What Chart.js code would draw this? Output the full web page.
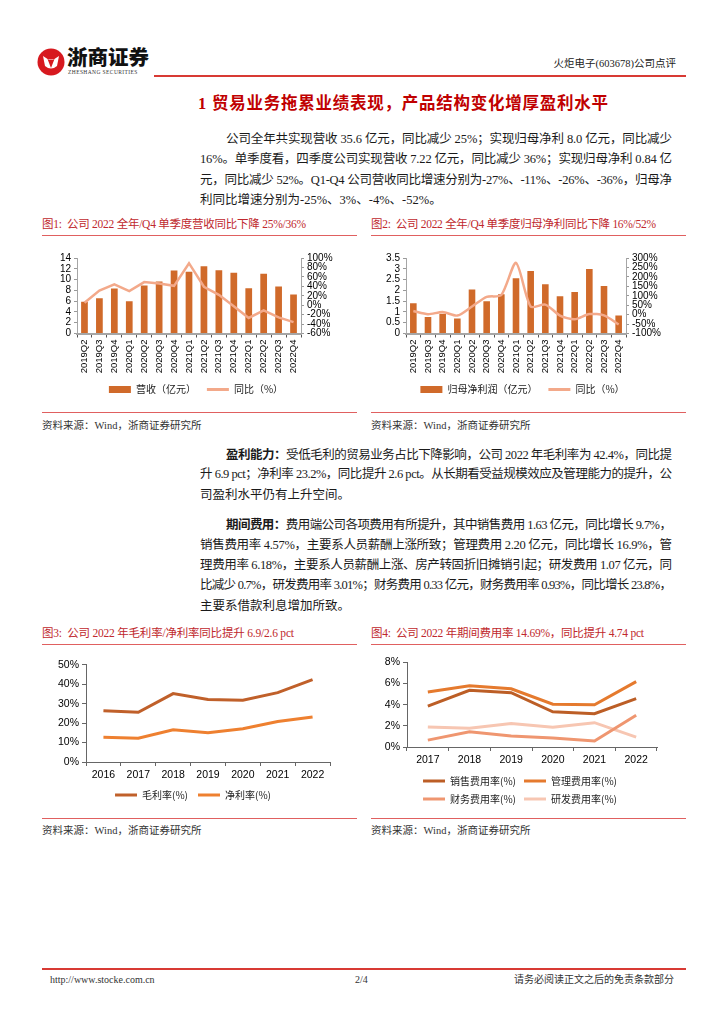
<!DOCTYPE html>
<html>
<head>
<meta charset="utf-8">
<script src="https://cdn.jsdelivr.net/npm/chart.js@4.4.0/dist/chart.umd.min.js"></script>
<style>
body{margin:0;width:724px;height:1024px;position:relative;background:#fff;overflow:hidden;
  font-family:"Liberation Serif","Noto Sans CJK SC",serif;color:#1a1a1a}
.t{position:absolute;white-space:nowrap;line-height:16px}
.body{font-size:12.5px}
.cap{font-size:11.5px;color:#c0282d}
.src{font-size:10.5px;color:#333}
.rule{position:absolute;height:1px;background:#e06060}
.box{position:absolute}
b{font-family:"Noto Sans CJK SC";font-weight:700}
</style>
</head>
<body>

<!-- header -->
<svg class="box" style="left:37px;top:48px" width="28" height="28" viewBox="0 0 28 28">
  <circle cx="14" cy="14" r="13.5" fill="#d7191f"/>
  <path d="M6 8 Q14 15 22 8 L20 18 Q14 23 8 18 Z" fill="#fff"/>
  <path d="M10.5 11 L14 20 L17.5 11 Q14 13 10.5 11 Z" fill="#d7191f"/>
</svg>
<div class="t" style="left:67px;top:44px;font-family:'Noto Sans CJK SC';font-weight:900;font-size:20.5px;line-height:24px;color:#111">浙商证券</div>
<div class="t" style="left:68px;top:69px;font-size:5.5px;line-height:7px;letter-spacing:0.4px;color:#333">ZHESHANG SECURITIES</div>
<div class="t" style="right:48px;top:56px;font-size:10.5px;color:#222">火炬电子(603678)公司点评</div>
<div class="box" style="left:154px;top:75px;width:532px;height:2px;background:#d83a34"></div>

<div class="t j" data-w="410" style="left:198px;top:94px;font-size:16.5px;line-height:20px;color:#c00000;font-family:'Liberation Serif','Noto Sans CJK SC';font-weight:700">1 贸易业务拖累业绩表现，产品结构变化增厚盈利水平</div>

<div class="t body j" data-w="446" style="left:226px;top:131px">公司全年共实现营收 35.6 亿元，同比减少 25%；实现归母净利 8.0 亿元，同比减少</div>
<div class="t body j" data-w="472" style="left:200px;top:151px">16%。单季度看，四季度公司实现营收 7.22 亿元，同比减少 36%；实现归母净利 0.84 亿</div>
<div class="t body j" data-w="472" style="left:200px;top:172px">元，同比减少 52%。Q1-Q4 公司营收同比增速分别为-27%、-11%、-26%、-36%，归母净</div>
<div class="t body" style="left:200px;top:192px">利同比增速分别为-25%、3%、-4%、-52%。</div>

<div class="t cap j" data-w="264" style="left:42px;top:216px">图1:&nbsp; 公司 2022 全年/Q4 单季度营收同比下降 25%/36%</div>
<div class="t cap j" data-w="285" style="left:371px;top:216px">图2:&nbsp; 公司 2022 全年/Q4 单季度归母净利同比下降 16%/52%</div>
<div class="rule" style="left:42px;top:235px;width:315px"></div>
<div class="rule" style="left:371px;top:235px;width:315px"></div>

<div class="box" style="left:40px;top:248.5px;width:320px;height:155.5px"><canvas id="c1"></canvas></div>
<div class="box" style="left:369px;top:248.5px;width:316px;height:155.5px"><canvas id="c2"></canvas></div>

<div class="rule" style="left:42px;top:412px;width:315px"></div>
<div class="rule" style="left:371px;top:412px;width:315px"></div>
<div class="t src" style="left:42px;top:418px">资料来源：Wind，浙商证券研究所</div>
<div class="t src" style="left:371px;top:418px">资料来源：Wind，浙商证券研究所</div>

<div class="t body j" data-w="446" style="left:226px;top:446px"><b>盈利能力：</b>受低毛利的贸易业务占比下降影响，公司 2022 年毛利率为 42.4%，同比提</div>
<div class="t body j" data-w="472" style="left:200px;top:466px">升 6.9 pct；净利率 23.2%，同比提升 2.6 pct。从长期看受益规模效应及管理能力的提升，公</div>
<div class="t body" style="left:200px;top:487px">司盈利水平仍有上升空间。</div>

<div class="t body j" data-w="446" style="left:226px;top:516px"><b>期间费用：</b>费用端公司各项费用有所提升，其中销售费用 1.63 亿元，同比增长 9.7%，</div>
<div class="t body j" data-w="472" style="left:200px;top:537px">销售费用率 4.57%，主要系人员薪酬上涨所致；管理费用 2.20 亿元，同比增长 16.9%，管</div>
<div class="t body j" data-w="472" style="left:200px;top:557px">理费用率 6.18%，主要系人员薪酬上涨、房产转固折旧摊销引起；研发费用 1.07 亿元，同</div>
<div class="t body j" data-w="472" style="left:200px;top:577px">比减少 0.7%，研发费用率 3.01%；财务费用 0.33 亿元，财务费用率 0.93%，同比增长 23.8%，</div>
<div class="t body" style="left:200px;top:598px">主要系借款利息增加所致。</div>

<div class="t cap j" data-w="252" style="left:42px;top:625px">图3:&nbsp; 公司 2022 年毛利率/净利率同比提升 6.9/2.6 pct</div>
<div class="t cap j" data-w="273" style="left:371px;top:625px">图4:&nbsp; 公司 2022 年期间费用率 14.69%，同比提升 4.74 pct</div>
<div class="rule" style="left:42px;top:644px;width:315px"></div>
<div class="rule" style="left:371px;top:644px;width:315px"></div>

<div class="box" style="left:40px;top:650px;width:306px;height:160px"><canvas id="c3"></canvas></div>
<div class="box" style="left:369px;top:650px;width:316px;height:164px"><canvas id="c4"></canvas></div>

<div class="rule" style="left:42px;top:818px;width:315px"></div>
<div class="rule" style="left:371px;top:818px;width:315px"></div>
<div class="t src" style="left:42px;top:823px">资料来源：Wind，浙商证券研究所</div>
<div class="t src" style="left:371px;top:823px">资料来源：Wind，浙商证券研究所</div>

<!-- footer -->
<div class="box" style="left:42px;top:968px;width:644px;height:1.5px;background:#d83a34"></div>
<div class="t" style="left:50px;top:972px;font-size:10px;color:#333">http://www.stocke.com.cn</div>
<div class="t" style="left:355px;top:972px;font-size:10px;color:#333">2/4</div>
<div class="t" style="right:50px;top:972px;font-size:10px;color:#333">请务必阅读正文之后的免责条款部分</div>

<script>
// fit justified lines to their measured widths
document.querySelectorAll('.j').forEach(el => {
  const target = +el.dataset.w;
  const natural = el.getBoundingClientRect().width;
  const n = el.textContent.length;
  el.style.letterSpacing = ((target - natural) / (n - 1)) + 'px';
});

const quarters = ['2019Q2','2019Q3','2019Q4','2020Q1','2020Q2','2020Q3','2020Q4','2021Q1','2021Q2','2021Q3','2021Q4','2022Q1','2022Q2','2022Q3','2022Q4'];
const revenue = [5.9, 6.55, 8.35, 6.0, 8.9, 9.65, 11.7, 11.45, 12.45, 11.75, 11.25, 8.4, 11.1, 8.7, 7.22];
const revenueYoy = [5, 31, 44, 30, 49, 46, 41, 89, 39, 22, -2, -27, -11, -26, -36];
const netProfit = [1.4, 0.76, 0.92, 0.69, 2.04, 1.49, 1.82, 2.56, 2.9, 2.28, 1.73, 1.92, 2.99, 2.2, 0.84];
const netProfitYoy = [19, 2, 14, -5, 43, 94, 104, 274, 43, 53, -5, -25, 3, -4, -52];

const marginYears = ['2016','2017','2018','2019','2020','2021','2022'];
const grossMargin = [26.3, 25.6, 35.2, 32.2, 31.8, 35.7, 42.4];
const netMargin = [12.7, 12.2, 16.6, 15.1, 17.1, 20.8, 23.2];

const expenseYears = ['2017','2018','2019','2020','2021','2022'];
const sellingRate = [3.86, 5.36, 5.14, 3.33, 3.15, 4.57];
const adminRate = [5.2, 5.79, 5.51, 4.05, 3.99, 6.18];
const financeRate = [0.65, 1.43, 1.03, 0.84, 0.56, 3.01];
const rdRate = [1.9, 1.78, 2.21, 1.87, 2.3, 0.93];

const barColor = '#d06a2a';
const yoyColor = '#f3a98a';

Chart.defaults.font.family = "'Liberation Sans', 'Noto Sans CJK SC', sans-serif";
Chart.defaults.font.size = 10;
Chart.defaults.color = '#000';
Chart.defaults.animation = false;
Chart.defaults.maintainAspectRatio = false;

const setWidth = w => s => { s.width = w; };
const setHeight = h => s => { s.height = h; };

function legendItems(chart) {
  const items = Chart.defaults.plugins.legend.labels.generateLabels(chart);
  items.sort((a, b) => a.datasetIndex - b.datasetIndex);
  items.forEach(it => {
    const ds = chart.data.datasets[it.datasetIndex];
    if ((ds.type || chart.config.type) === 'line') {
      it.pointStyle = 'line';
      it.strokeStyle = ds.borderColor;
      it.lineWidth = 3;
    } else {
      it.pointStyle = 'rect';
      it.fillStyle = ds.backgroundColor;
      it.strokeStyle = ds.backgroundColor;
      it.lineWidth = 0;
    }
  });
  return items;
}

function legend(padding) {
  return {
    position: 'bottom',
    labels: {
      usePointStyle: true, pointStyleWidth: 22, boxHeight: 7, padding: padding,
      color: '#222', font: { family: "'Noto Sans CJK SC'", size: 10 },
      generateLabels: legendItems
    }
  };
}

function quarterChart(id, barLabel, bars, yoy, leftMax, leftStep, rightMin, rightMax, rightStep, pad, tension) {
  new Chart(document.getElementById(id), {
    type: 'bar',
    data: {
      labels: quarters,
      datasets: [
        { label: barLabel, data: bars, backgroundColor: barColor, yAxisID: 'y', order: 1,
          barPercentage: 0.5, categoryPercentage: 0.9 },
        { type: 'line', label: '同比（%）', data: yoy, borderColor: yoyColor, borderWidth: 2.5,
          pointRadius: 0, yAxisID: 'y1', order: 0, tension: tension }
      ]
    },
    options: {
      layout: { padding: { left: pad[0], right: pad[1], top: 7, bottom: 0 } },
      plugins: { legend: legend(11), tooltip: { enabled: false } },
      scales: {
        x: {
          offset: true,
          grid: { offset: true, drawOnChartArea: false, tickLength: 4, color: '#555' },
          border: { color: '#a6a6a6', width: 2 },
          ticks: { maxRotation: 90, minRotation: 90, autoSkip: false, padding: 2, font: { size: 9.5 } },
          afterFit: setHeight(40)
        },
        y: {
          min: 0, max: leftMax,
          ticks: { stepSize: leftStep, padding: 3, autoSkip: false, callback: v => String(v) },
          grid: { drawOnChartArea: false, tickLength: 3, color: '#999' },
          border: { color: '#a6a6a6' },
          afterFit: setWidth(pad[2])
        },
        y1: {
          position: 'right', min: rightMin, max: rightMax,
          ticks: { stepSize: rightStep, padding: 3, autoSkip: false, callback: v => v + '%' },
          grid: { drawOnChartArea: false, tickLength: 3, color: '#999' },
          border: { color: '#a6a6a6' },
          afterFit: setWidth(pad[3])
        }
      }
    }
  });
}

quarterChart('c1', '营收（亿元）', revenue, revenueYoy, 14, 2, -60, 100, 20, [10, 18, 27, 41], 0);
quarterChart('c2', '归母净利润（亿元）', netProfit, netProfitYoy, 3.5, 0.5, -100, 300, 50, [10, 19, 27, 40], 0.25);

function rateChart(id, labels, series, yMax, yStep, pad, legendPad, xHeight) {
  new Chart(document.getElementById(id), {
    type: 'line',
    data: {
      labels: labels,
      datasets: series.map(s => ({
        label: s[0], data: s[1], borderColor: s[2], borderWidth: 3, pointRadius: 0, tension: 0
      }))
    },
    options: {
      layout: { padding: { left: pad[0], right: pad[1], top: pad[2], bottom: 0 } },
      plugins: { legend: legend(legendPad), tooltip: { enabled: false } },
      scales: {
        x: {
          offset: true,
          grid: { offset: true, drawOnChartArea: false, tickLength: 4, color: '#666' },
          border: { color: '#666' },
          ticks: { padding: 3, font: { size: 10.5 } },
          afterFit: setHeight(xHeight)
        },
        y: {
          min: 0, max: yMax,
          ticks: { stepSize: yStep, padding: 3, autoSkip: false, font: { size: 10.5 }, callback: v => v + '%' },
          grid: { drawOnChartArea: false, tickLength: 4, color: '#666' },
          border: { color: '#666' },
          afterFit: setWidth(pad[3])
        }
      }
    }
  });
}

rateChart('c3', marginYears, [
  ['毛利率(%)', grossMargin, '#c0602a'],
  ['净利率(%)', netMargin, '#ee8030']
], 50, 10, [16, 16, 14.8, 30], 10, 18);

rateChart('c4', expenseYears, [
  ['销售费用率(%)', sellingRate, '#bc5e26'],
  ['管理费用率(%)', adminRate, '#e57a2e'],
  ['财务费用率(%)', financeRate, '#ef9670'],
  ['研发费用率(%)', rdRate, '#f7c6b2']
], 8, 2, [14, 28, 12.4, 24], 8, 21);
</script>
</body>
</html>
